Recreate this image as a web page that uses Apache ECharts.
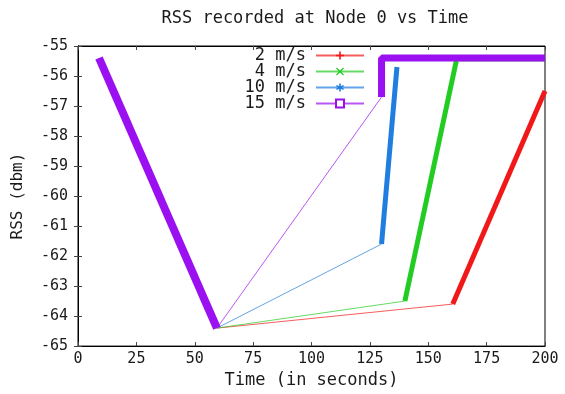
<!DOCTYPE html>
<html><head><meta charset="utf-8">
<script src="https://cdn.jsdelivr.net/npm/echarts@6/dist/echarts.min.js"></script>
<style>html,body{margin:0;padding:0;background:#fff}#c{width:565px;height:394px}</style>
</head><body><div id="c"></div>
<script>
const titleText = 'RSS recorded at Node 0 vs Time';
const xName = 'Time (in seconds)';
const yName = 'RSS (dbm)';
const xMin = 0, xMax = 200, xStep = 25;
const yMin = -65, yMax = -55, yStep = 1;
const seriesNames = ['2 m/s', '4 m/s', '10 m/s', '15 m/s'];
const colors = ['#f01818', '#22cc22', '#1f7ee0', '#9a10f0'];

// full paths (thin connecting lines)
const path2 = [[9, -55.4], [59.5, -64.4], [160.5, -63.6], [200, -56.5]];
const path4 = [[9, -55.4], [59.5, -64.4], [140, -63.5], [162, -55.5], [200, -55.5]];
const path10 = [[9, -55.4], [59.5, -64.4], [130, -61.6], [136.6, -55.7]];
const path15 = [[9, -55.4], [59.5, -64.4], [130, -56.7], [130, -55.4], [200, -55.4]];
// densely sampled stretches (drawn thick)
const dense2 = [[160.5, -63.6], [200, -56.5]];
const dense4 = [[140, -63.5], [162, -55.5]];
const dense10 = [[130, -61.6], [136.6, -55.7]];
const dense15a = [[9, -55.4], [59.5, -64.4]];
const dense15b = [[130, -56.7], [130, -55.4], [200, -55.4]];

const FONT = 'DejaVu Sans Mono';
const TXT = '#1a1a1a';
const plusPath = 'path://M4,0H6V4H10V6H6V10H4V6H0V4H4Z';
const xPath = 'path://M1,0L5,3.6L9,0L10,1L6.4,5L10,9L9,10L5,6.4L1,10L0,9L3.6,5L0,1Z';
const starPath = 'path://M4,0H6V3.5L9,1.8L10,3.5L7,5L10,6.5L9,8.2L6,6.5V10H4V6.5L1,8.2L0,6.5L3,5L0,3.5L1,1.8L4,3.5Z';
const symbols = [plusPath, xPath, starPath, 'emptyRect'];

const paths = [path2, path4, path10, path15];
const series = [];
paths.forEach((p, i) => {
  series.push({
    name: seriesNames[i], type: 'line', data: p, symbol: symbols[i], symbolSize: 7,
    showSymbol: false, lineStyle: { width: 1, color: colors[i], opacity: 0.7 },
    itemStyle: { color: colors[i] }, z: 2 + i, animation: false
  });
});
const thick = [[dense2, 0, 5], [dense4, 1, 5], [dense10, 2, 5], [dense15a, 3, 8], [dense15b, 3, 7]];
thick.forEach(([d, i, w], k) => {
  series.push({
    name: seriesNames[i], type: 'line', data: d, showSymbol: false, symbol: 'none',
    lineStyle: { width: w, color: colors[i] }, z: 10 + k, animation: false
  });
});

const axisCommon = {
  axisLine: { show: true, lineStyle: { color: '#000', width: 1 } },
  axisTick: { show: true, inside: true, length: 4, lineStyle: { color: '#444' } },
  splitLine: { show: false }
};

const legends = seriesNames.map((n, i) => ({
  data: [n], orient: 'vertical', right: 200, top: 54 + i * 16 - 7, align: 'right', padding: 0,
  itemWidth: 48, itemHeight: 10, itemGap: 4,
  textStyle: { fontFamily: FONT, fontSize: 17, color: TXT, padding: [0, 5, 0, 0] }
}));

const chart = echarts.init(document.getElementById('c'), null, { renderer: 'canvas' });
chart.setOption({
  backgroundColor: '#fff',
  animation: false,
  title: { text: titleText, left: 310, top: 5, textAlign: 'center',
    textStyle: { fontFamily: FONT, fontSize: 17, fontWeight: 'normal', color: TXT } },
  legend: legends,
  grid: { left: 78, right: 20, top: 46, bottom: 45, show: true, borderColor: '#000', borderWidth: 1 },
  xAxis: [
    Object.assign({ type: 'value', min: xMin, max: xMax, interval: xStep, position: 'bottom',
      name: xName, nameLocation: 'middle', nameGap: 25,
      nameTextStyle: { fontFamily: FONT, fontSize: 17, color: TXT },
      axisLabel: { fontFamily: FONT, fontSize: 15, color: TXT, margin: 6 } }, axisCommon),
    Object.assign({ type: 'value', min: xMin, max: xMax, interval: xStep, position: 'top',
      axisLabel: { show: false } }, axisCommon)
  ],
  yAxis: [
    Object.assign({ type: 'value', min: yMin, max: yMax, interval: yStep, position: 'left',
      name: yName, nameLocation: 'middle', nameGap: 52, nameRotate: 90,
      nameTextStyle: { fontFamily: FONT, fontSize: 16, color: TXT },
      axisLabel: { fontFamily: FONT, fontSize: 15, color: TXT, margin: 10 } }, axisCommon),
    Object.assign({ type: 'value', min: yMin, max: yMax, interval: yStep, position: 'right',
      axisLabel: { show: false } }, axisCommon)
  ],
  series: series
});
</script></body></html>
